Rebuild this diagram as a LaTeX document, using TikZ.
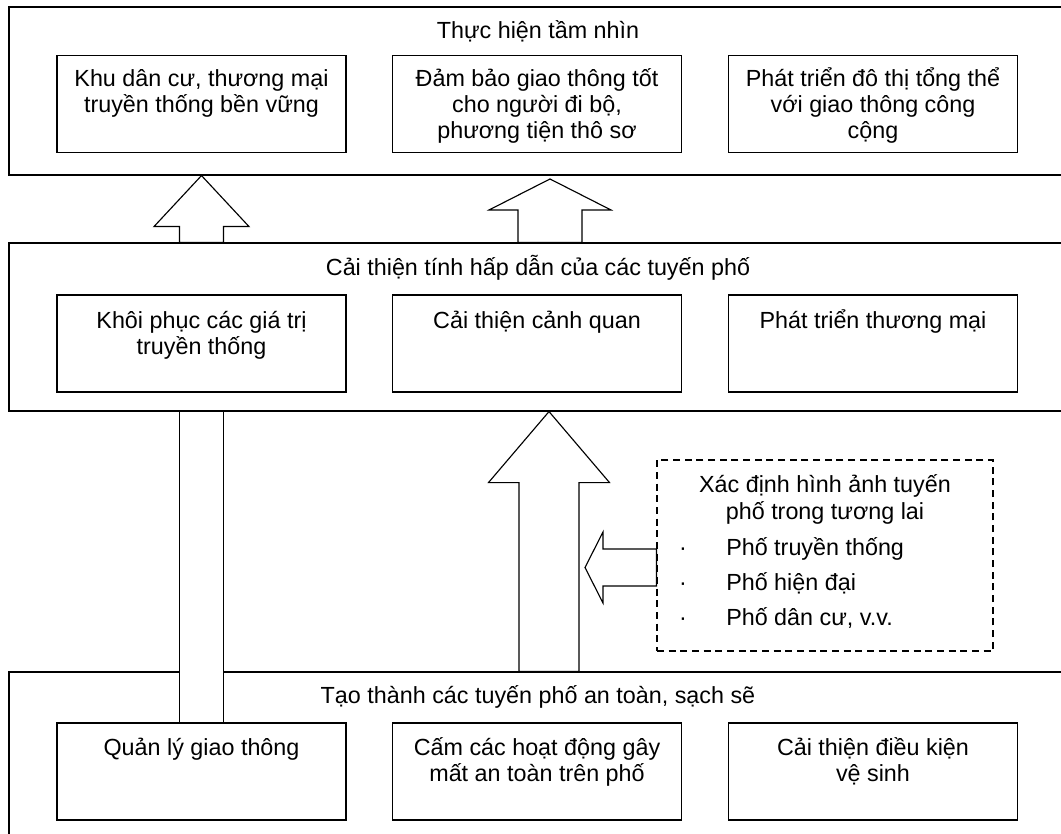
\documentclass[tikz,border=0pt]{standalone}
\usepackage{fontspec}
\setmainfont{Liberation Sans}
\usetikzlibrary{calc}
\newcommand\fs{\rule{0pt}{17.5pt}}
\tikzset{
  ln/.style={line width=0.85pt, black},
  outbox/.style={ln, draw, rectangle, inner sep=0pt, minimum width=803.25pt},
  inbox/.style={ln, draw, rectangle, inner sep=0pt, minimum width=216.75pt, minimum height=72.75pt},
  txt/.style={inner sep=0pt, font=\fontsize{17.5pt}{19.5pt}\selectfont, align=center},
  blk/.style={ln, draw, fill=white, line join=miter},
  dbox/.style={ln, draw, dash pattern=on 5.25pt off 3.5pt, inner sep=0pt, minimum width=252pt, minimum height=143.25pt},
}
\newcommand\upblk[5]{\draw[blk] ($(#1)+(-#3,0)$) -- ($(#2)+(-#3,#5)$) -- ($(#2)+(-#4,#5)$) -- (#2) -- ($(#2)+(#4,#5)$) -- ($(#2)+(#3,#5)$) -- ($(#1)+(#3,0)$) -- cycle;}
\newcommand\leftblk[5]{\draw[blk] ($(#1)+(0,-#3)$) -- ($(#2)+(#5,-#3)$) -- ($(#2)+(#5,-#4)$) -- (#2) -- ($(#2)+(#5,#4)$) -- ($(#2)+(#5,#3)$) -- ($(#1)+(0,#3)$) -- cycle;}
\begin{document}
\begin{tikzpicture}[x=0.75pt,y=-0.75pt]
\useasboundingbox (0,0) rectangle (1061,834);
\clip (0,0) rectangle (1061,834);
% outer boxes
\node[outbox, minimum height=126pt] (top) at (544.5,91) {};
\node[outbox, minimum height=126pt] (mid) at (544.5,327) {};
\node[outbox, minimum height=171pt] (bot) at (544.5,786) {};
% titles
\node[txt, anchor=base] (toptitle) at (538,39) {Thực hiện tầm nhìn};
\node[txt, anchor=base] (midtitle) at (538,276) {Cải thiện tính hấp dẫn của các tuyến phố};
\node[txt, anchor=base] (bottitle) at (538,703) {Tạo thành các tuyến phố an toàn, sạch sẽ};
% inner boxes
\node[inbox] (t1) at (201.5,104) {};
\node[inbox] (t2) at (537,104) {};
\node[inbox] (t3) at (873,104) {};
\node[inbox] (m1) at (201.5,343.5) {};
\node[inbox] (m2) at (537,343.5) {};
\node[inbox] (m3) at (873,343.5) {};
\node[inbox] (b1) at (201.5,771.5) {};
\node[inbox] (b2) at (537,771.5) {};
\node[inbox] (b3) at (873,771.5) {};
% inner texts
\node[txt, anchor=north] (t1t) at ($(t1.north)+(0,8.2)$) {\fs Khu dân cư, thương mại\\truyền thống bền vững};
\node[txt, anchor=north] (t2t) at ($(t2.north)+(0,8.2)$) {\fs Đảm bảo giao thông tốt\\cho người đi bộ,\\phương tiện thô sơ};
\node[txt, anchor=north] (t3t) at ($(t3.north)+(0,8.2)$) {\fs Phát triển đô thị tổng thể\\với giao thông công\\cộng};
\node[txt, anchor=north] (m1t) at ($(m1.north)+(0,10.7)$) {\fs Khôi phục các giá trị\\truyền thống};
\node[txt, anchor=north] (m2t) at ($(m2.north)+(0,10.7)$) {\fs Cải thiện cảnh quan};
\node[txt, anchor=north] (m3t) at ($(m3.north)+(0,10.7)$) {\fs Phát triển thương mại};
\node[txt, anchor=north] (b1t) at ($(b1.north)+(0,9.7)$) {\fs Quản lý giao thông};
\node[txt, anchor=north] (b2t) at ($(b2.north)+(0,9.7)$) {\fs Cấm các hoạt động gây\\mất an toàn trên phố};
\node[txt, anchor=north] (b3t) at ($(b3.north)+(0,9.7)$) {\fs Cải thiện điều kiện\\vệ sinh};
% dashed box
\node[dbox] (db) at (825,555.5) {};
\node[txt, anchor=base] (dh1) at (825,492) {Xác định hình ảnh tuyến};
\node[txt, anchor=base] (dh2) at (825,519) {phố trong tương lai};
\node[txt, anchor=base] (bu1) at (683,555) {·};
\node[txt, anchor=base] (bu2) at (683,590) {·};
\node[txt, anchor=base] (bu3) at (683,625) {·};
\node[txt, anchor=base west] (it1) at (726,555) {Phố truyền thống};
\node[txt, anchor=base west] (it2) at (726,590) {Phố hiện đại};
\node[txt, anchor=base west] (it3) at (726,625) {Phố dân cư, v.v.};
% arrows
\coordinate (a1b) at (mid.north -| t1);
\coordinate (a1t) at (top.south -| t1);
\upblk{a1b}{a1t}{22}{47.5}{51}
\coordinate (a2t) at (550,179);
\coordinate (a2b) at (mid.north -| a2t);
\upblk{a2b}{a2t}{32}{61}{31}
\draw[blk] ($(mid.south -| t1)+(-22,0)$) rectangle ($(b1.north)+(22,0)$);
\coordinate (a4x) at (549,0);
\coordinate (a4b) at (bot.north -| a4x);
\coordinate (a4t) at (mid.south -| a4x);
\upblk{a4b}{a4t}{30}{60.5}{71}
\coordinate (a5b) at (db.west |- 0,567.5);
\coordinate (a5t) at (585,567.5);
\leftblk{a5b}{a5t}{18.5}{35.5}{18}
\end{tikzpicture}
\end{document}
